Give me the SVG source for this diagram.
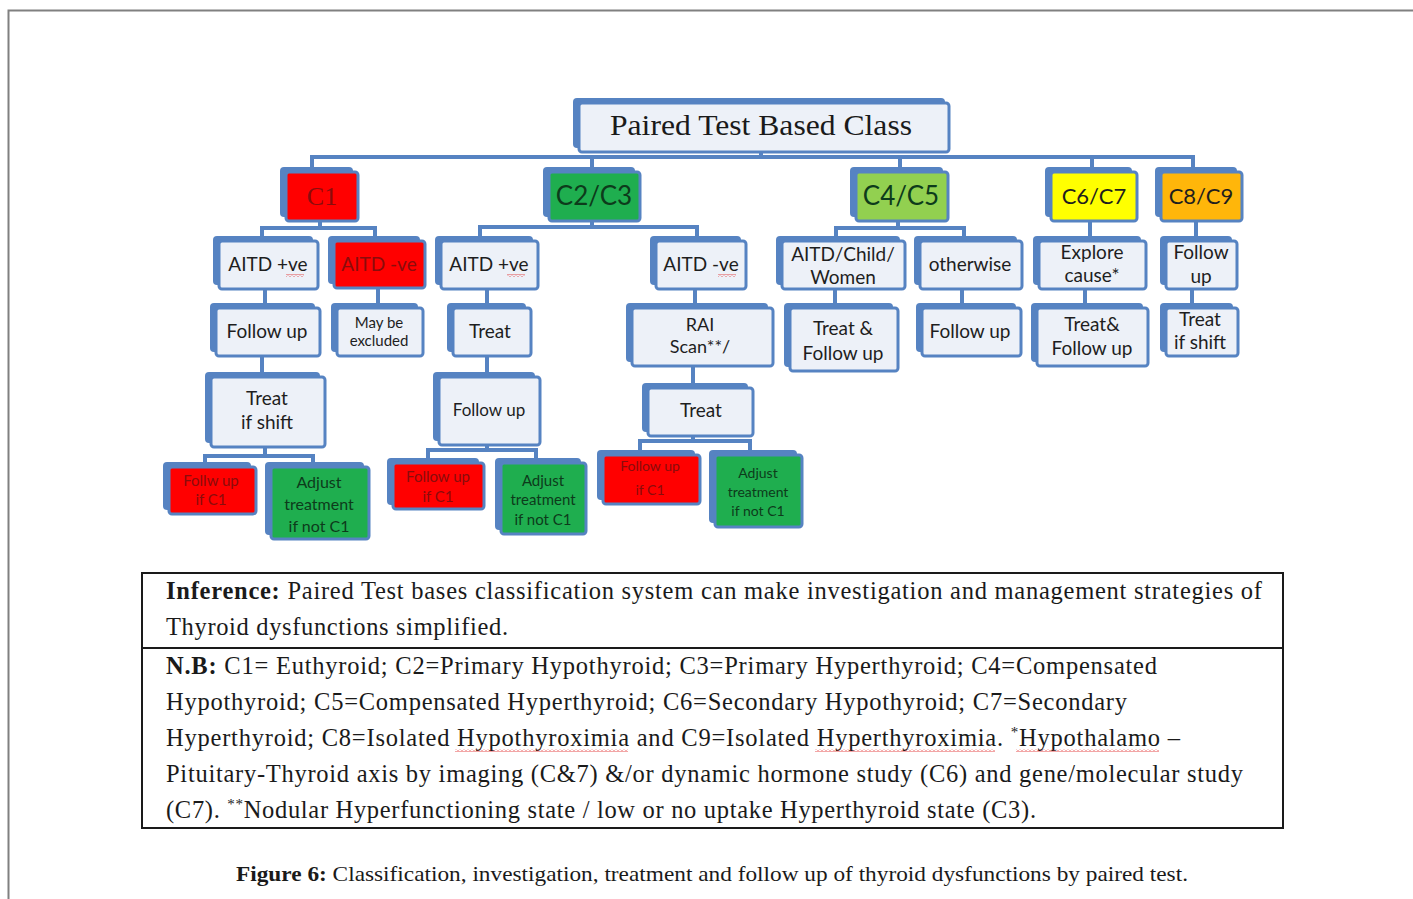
<svg xmlns="http://www.w3.org/2000/svg" width="1413" height="899" viewBox="0 0 1413 899">
<style>
.bk{fill:#5683c2}
.fr{fill:#edf1f8;stroke:#5683c2;stroke-width:3}
.red{fill:#ff0000;stroke:#5683c2;stroke-width:3}
.grn{fill:#1fae4f;stroke:#5683c2;stroke-width:3}
.lg{fill:#92d050;stroke:#5683c2;stroke-width:3}
.yel{fill:#ffff00;stroke:#5683c2;stroke-width:3}
.org{fill:#ffb60a;stroke:#5683c2;stroke-width:3}
.t{font-family:Lato,"Liberation Sans",sans-serif;font-size:19px;fill:#1e1e1e;text-anchor:middle}
.tr{fill:#8a0c0c}
.tg{fill:#0d3b1b}
.c{stroke:#5683c2;stroke-width:4;fill:none}
.s{font-family:"Liberation Serif",serif;font-size:24.5px;fill:#1a1a1a}
.sq{fill:url(#sq)}
</style>
<defs>
<pattern id="sq" width="4" height="3" patternUnits="userSpaceOnUse">
<path d="M0,2.5 L2,0.5 L4,2.5" stroke="#e02020" stroke-width="0.8" fill="none"/>
</pattern>
</defs>
<rect width="1413" height="899" fill="#ffffff"/>
<rect x="8.5" y="10.5" width="1420" height="900" fill="none" stroke="#808080" stroke-width="2"/>

<g id="connectors">
<path class="c" d="M761,153 V157 M312,167 V157 H1193 V167 M592,157 V167 M900,157 V167 M1092,157 V167"/>
<path class="c" d="M320,222 V228 M262,236 V228 H375 V236"/>
<path class="c" d="M592,222 V227 M480,236 V227 H697 V236"/>
<path class="c" d="M898,222 V228 M836,236 V228 H964 V236"/>
<path class="c" d="M1090,222 V236 M1196,222 V236"/>
<path class="c" d="M265,290 V303 M378,289 V303 M487,290 V303 M695,290 V303 M835,290 V303 M962,290 V303 M1085,290 V303 M1192,290 V303"/>
<path class="c" d="M262,357 V372 M487,357 V372 M693,367 V383"/>
<path class="c" d="M265,448 V456 M205,462 V456 H313 V462"/>
<path class="c" d="M487,446 V450 M428,458 V450 H536 V458"/>
<path class="c" d="M693,437 V441 M640,450 V441 H750 V450"/>
</g>

<g id="root">
<rect class="bk" x="573" y="98" width="372" height="50" rx="4"/>
<rect class="fr" x="579" y="103" width="370" height="49" rx="3"/>
<text x="610" y="135" font-family="'Liberation Serif',serif" font-size="29" fill="#1a1a1a" textLength="302" lengthAdjust="spacingAndGlyphs">Paired Test Based Class</text>
</g>

<g id="c1">
<rect class="bk" x="280" y="167" width="73" height="50" rx="4"/>
<rect class="red" x="286" y="172" width="72" height="49" rx="3"/>
<text class="t tr" x="322" y="205" style="font-family:'Liberation Serif',serif;font-size:26px">C1</text>
</g>
<g id="c2c3">
<rect class="bk" x="543" y="167" width="92" height="50" rx="4"/>
<rect class="grn" x="549" y="172" width="91" height="49" rx="3"/>
<text class="t tg" x="594" y="205" style="font-size:26px">C2/C3</text>
</g>
<g id="c4c5">
<rect class="bk" x="850" y="167" width="93" height="50" rx="4"/>
<rect class="lg" x="856" y="172" width="92" height="49" rx="3"/>
<text class="t tg" x="901" y="205" style="font-size:26px">C4/C5</text>
</g>
<g id="c6c7">
<rect class="bk" x="1045" y="167" width="87" height="50" rx="4"/>
<rect class="yel" x="1051" y="172" width="86" height="49" rx="3"/>
<text class="t" x="1094" y="204" style="font-size:22px">C6/C7</text>
</g>
<g id="c8c9">
<rect class="bk" x="1155" y="167" width="82" height="50" rx="4"/>
<rect class="org" x="1161" y="172" width="81" height="49" rx="3"/>
<text class="t" x="1201" y="204" style="font-size:22px">C8/C9</text>
</g>

<g id="c1-aitd-pos">
<rect class="bk" x="213" y="236" width="100" height="49" rx="4"/>
<rect class="fr" x="219" y="241" width="99" height="48" rx="3"/>
<text class="t" x="268" y="271">AITD +ve</text>
<rect class="sq" x="286" y="274" width="18" height="3"/>
</g>
<g id="c1-aitd-neg">
<rect class="bk" x="328" y="236" width="92" height="48" rx="4"/>
<rect class="red" x="334" y="241" width="91" height="47" rx="3"/>
<text class="t tr" x="379" y="271">AITD -ve</text>
</g>
<g id="c2-aitd-pos">
<rect class="bk" x="435" y="236" width="98" height="49" rx="4"/>
<rect class="fr" x="441" y="241" width="97" height="48" rx="3"/>
<text class="t" x="489" y="271">AITD +ve</text>
<rect class="sq" x="507" y="274" width="18" height="3"/>
</g>
<g id="c3-aitd-neg">
<rect class="bk" x="650" y="236" width="91" height="49" rx="4"/>
<rect class="fr" x="656" y="241" width="90" height="48" rx="3"/>
<text class="t" x="701" y="271">AITD -ve</text>
<rect class="sq" x="718" y="274" width="18" height="3"/>
</g>
<g id="c4-aitd-child-women">
<rect class="bk" x="776" y="236" width="124" height="49" rx="4"/>
<rect class="fr" x="782" y="241" width="123" height="48" rx="3"/>
<text class="t" x="843" y="261">AITD/Child/</text>
<text class="t" x="843" y="284">Women</text>
</g>
<g id="c4-otherwise">
<rect class="bk" x="914" y="236" width="103" height="49" rx="4"/>
<rect class="fr" x="920" y="241" width="102" height="48" rx="3"/>
<text class="t" x="970" y="271">otherwise</text>
</g>
<g id="c6-explore">
<rect class="bk" x="1033" y="236" width="108" height="49" rx="4"/>
<rect class="fr" x="1039" y="241" width="107" height="48" rx="3"/>
<text class="t" x="1092" y="259">Explore</text>
<text class="t" x="1092" y="282">cause*</text>
</g>
<g id="c8-followup">
<rect class="bk" x="1160" y="236" width="72" height="49" rx="4"/>
<rect class="fr" x="1166" y="241" width="71" height="48" rx="3"/>
<text class="t" x="1201" y="259">Follow</text>
<text class="t" x="1201" y="283">up</text>
</g>

<g id="c1-followup">
<rect class="bk" x="210" y="303" width="105" height="49" rx="4"/>
<rect class="fr" x="216" y="308" width="104" height="48" rx="3"/>
<text class="t" x="267" y="338">Follow up</text>
</g>
<g id="c1-excluded">
<rect class="bk" x="331" y="303" width="87" height="49" rx="4"/>
<rect class="fr" x="337" y="308" width="86" height="48" rx="3"/>
<text class="t" x="379" y="328" style="font-size:15px">May be</text>
<text class="t" x="379" y="346" style="font-size:15px">excluded</text>
</g>
<g id="c2-treat">
<rect class="bk" x="447" y="303" width="79" height="49" rx="4"/>
<rect class="fr" x="453" y="308" width="78" height="48" rx="3"/>
<text class="t" x="490" y="338">Treat</text>
</g>
<g id="c3-rai">
<rect class="bk" x="626" y="303" width="142" height="59" rx="4"/>
<rect class="fr" x="632" y="308" width="141" height="58" rx="3"/>
<text class="t" x="700" y="331" style="font-size:18px">RAI</text>
<text class="t" x="700" y="353" style="font-size:18px">Scan**/</text>
</g>
<g id="c4-treat-follow">
<rect class="bk" x="784" y="303" width="109" height="64" rx="4"/>
<rect class="fr" x="790" y="308" width="108" height="63" rx="3"/>
<text class="t" x="843" y="335">Treat &amp;</text>
<text class="t" x="843" y="360">Follow up</text>
</g>
<g id="c5-followup">
<rect class="bk" x="916" y="303" width="100" height="49" rx="4"/>
<rect class="fr" x="922" y="308" width="99" height="48" rx="3"/>
<text class="t" x="970" y="338">Follow up</text>
</g>
<g id="c6-treat-follow">
<rect class="bk" x="1031" y="303" width="112" height="59" rx="4"/>
<rect class="fr" x="1037" y="308" width="111" height="58" rx="3"/>
<text class="t" x="1092" y="331">Treat&amp;</text>
<text class="t" x="1092" y="355">Follow up</text>
</g>
<g id="c8-treat-shift">
<rect class="bk" x="1160" y="303" width="73" height="49" rx="4"/>
<rect class="fr" x="1166" y="308" width="72" height="48" rx="3"/>
<text class="t" x="1200" y="326">Treat</text>
<text class="t" x="1200" y="349">if shift</text>
</g>

<g id="c1-treat-shift">
<rect class="bk" x="205" y="372" width="115" height="71" rx="4"/>
<rect class="fr" x="211" y="377" width="114" height="70" rx="3"/>
<text class="t" x="267" y="405">Treat</text>
<text class="t" x="267" y="429">if shift</text>
</g>
<g id="c2-followup">
<rect class="bk" x="433" y="372" width="102" height="69" rx="4"/>
<rect class="fr" x="439" y="377" width="101" height="68" rx="3"/>
<text class="t" x="489" y="416" style="font-size:17px">Follow up</text>
</g>
<g id="c3-treat">
<rect class="bk" x="642" y="383" width="106" height="49" rx="4"/>
<rect class="fr" x="648" y="388" width="105" height="48" rx="3"/>
<text class="t" x="701" y="417">Treat</text>
</g>

<g id="c1-follow-if-c1">
<rect class="bk" x="163" y="462" width="88" height="48" rx="4"/>
<rect class="red" x="169" y="467" width="87" height="47" rx="3"/>
<text class="t tr" x="211" y="486" style="font-size:15px">Follw up</text>
<text class="t tr" x="211" y="505" style="font-size:15px">if C1</text>
</g>
<g id="c1-adjust">
<rect class="bk" x="265" y="462" width="99" height="73" rx="4"/>
<rect class="grn" x="271" y="467" width="98" height="72" rx="3"/>
<text class="t tg" x="319" y="488" style="font-size:16px">Adjust</text>
<text class="t tg" x="319" y="510" style="font-size:16px">treatment</text>
<text class="t tg" x="319" y="532" style="font-size:16px">if not C1</text>
</g>
<g id="c2-follow-if-c1">
<rect class="bk" x="387" y="458" width="92" height="47" rx="4"/>
<rect class="red" x="393" y="463" width="91" height="46" rx="3"/>
<text class="t tr" x="438" y="482" style="font-size:15px">Follow up</text>
<text class="t tr" x="438" y="502" style="font-size:15px">if C1</text>
</g>
<g id="c2-adjust">
<rect class="bk" x="495" y="458" width="86" height="72" rx="4"/>
<rect class="grn" x="501" y="463" width="85" height="71" rx="3"/>
<text class="t tg" x="543" y="486" style="font-size:15px">Adjust</text>
<text class="t tg" x="543" y="505" style="font-size:15px">treatment</text>
<text class="t tg" x="543" y="525" style="font-size:15px">if not C1</text>
</g>
<g id="c3-follow-if-c1">
<rect class="bk" x="597" y="450" width="98" height="50" rx="4"/>
<rect class="red" x="603" y="455" width="97" height="49" rx="3"/>
<text class="t tr" x="650" y="471" style="font-size:14px">Follow up</text>
<text class="t tr" x="650" y="495" style="font-size:14px">if C1</text>
</g>
<g id="c3-adjust">
<rect class="bk" x="709" y="450" width="88" height="73" rx="4"/>
<rect class="grn" x="715" y="455" width="87" height="72" rx="3"/>
<text class="t tg" x="758" y="478" style="font-size:14px">Adjust</text>
<text class="t tg" x="758" y="497" style="font-size:14px">treatment</text>
<text class="t tg" x="758" y="516" style="font-size:14px">if not C1</text>
</g>

<g id="notes">
<rect x="142" y="573" width="1141" height="255" fill="none" stroke="#1a1a1a" stroke-width="2"/>
<line x1="142" y1="648" x2="1283" y2="648" stroke="#1a1a1a" stroke-width="2"/>
<text class="s" x="166" y="599" textLength="1096" lengthAdjust="spacing"><tspan font-weight="bold">Inference:</tspan> Paired Test bases classification system can make investigation and management strategies of</text>
<text class="s" x="166" y="635" textLength="342" lengthAdjust="spacing">Thyroid dysfunctions simplified.</text>
<text class="s" x="166" y="674" textLength="991" lengthAdjust="spacing"><tspan font-weight="bold">N.B:</tspan> C1= Euthyroid; C2=Primary Hypothyroid; C3=Primary Hyperthyroid; C4=Compensated</text>
<text class="s" x="166" y="710" textLength="961" lengthAdjust="spacing">Hypothyroid; C5=Compensated Hyperthyroid; C6=Secondary Hypothyroid; C7=Secondary</text>
<text class="s" x="166" y="746" textLength="1014" lengthAdjust="spacing">Hyperthyroid; C8=Isolated Hypothyroximia and C9=Isolated Hyperthyroximia. <tspan font-size="15" dy="-9">*</tspan><tspan dy="9">Hypothalamo –</tspan></text>
<rect class="sq" x="455" y="749" width="173" height="3"/>
<rect class="sq" x="815" y="749" width="180" height="3"/>
<rect class="sq" x="1016" y="749" width="143" height="3"/>
<text class="s" x="166" y="782" textLength="1077" lengthAdjust="spacing">Pituitary-Thyroid axis by imaging (C&amp;7) &amp;/or dynamic hormone study (C6) and gene/molecular study</text>
<text class="s" x="166" y="818" textLength="870" lengthAdjust="spacing">(C7). <tspan font-size="15" dy="-9">**</tspan><tspan dy="9">Nodular Hyperfunctioning state / low or no uptake Hyperthyroid state (C3).</tspan></text>
</g>

<text x="236" y="881" font-family="'Liberation Serif',serif" font-size="22" fill="#1a1a1a" textLength="952" lengthAdjust="spacingAndGlyphs"><tspan font-weight="bold">Figure 6:</tspan> Classification, investigation, treatment and follow up of thyroid dysfunctions by paired test.</text>
</svg>
